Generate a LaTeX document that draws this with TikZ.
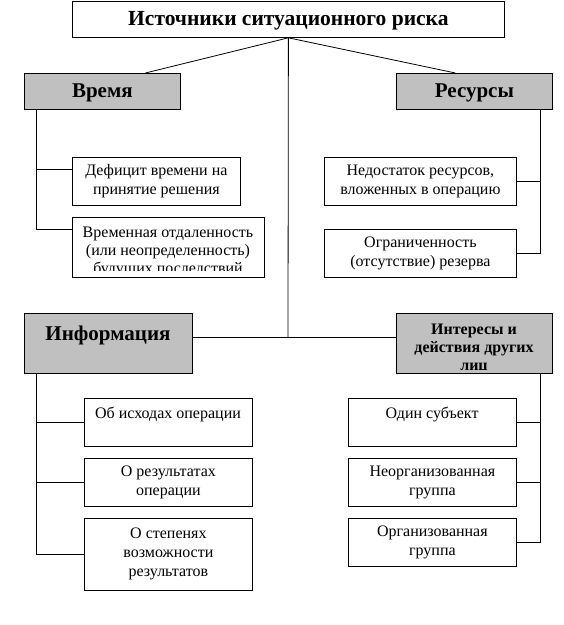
\documentclass[tikz,border=0pt]{standalone}
\usepackage{fontspec}
\setmainfont{Liberation Serif}
\usetikzlibrary{positioning}
\definecolor{headgray}{HTML}{C0C0C0}
\definecolor{ink}{HTML}{000000}
\tikzset{
  box/.style={draw=ink, line width=0.8pt, inner sep=0pt, anchor=north west,
    align=center, font=\fontsize{16}{19}\selectfont},
  head/.style={box, fill=headgray, font=\bfseries\fontsize{21}{23}\selectfont},
  txt/.style={inner sep=0pt, align=center, font=\fontsize{16}{18}\selectfont},
  link/.style={draw=ink, line width=0.8pt},
}
\begin{document}
\begin{tikzpicture}[x=1pt,y=-1pt]
  \useasboundingbox (0,0) rectangle (564,625);
  % root
  \node[box, font=\bfseries\fontsize{21.5}{23}\selectfont, minimum width=432pt, minimum height=36pt,
    text height=14pt, text depth=1pt] (src) at (72,1) {Источники ситуационного риска};
  % four groups
  \node[head, minimum width=156pt, minimum height=36pt, text height=14pt, text depth=1pt] (time) at (24,73) {Время};
  \node[head, minimum width=156pt, minimum height=36pt, text height=14pt, text depth=1pt] (res) at (396,73) {Ресурсы};
  \node[head, minimum width=168pt, minimum height=60pt] (info) at (24,313) {};
  \node[head, minimum width=156pt, minimum height=60pt] (inter) at (396,313) {};
  \node[txt, font=\bfseries\fontsize{21}{23}\selectfont, anchor=base] (info-l) at (108,340) {Информация};
  % time
  \node[box, minimum width=168pt, minimum height=48pt] (t1) at (72,157) {Дефицит времени на\\принятие решения};
  \node[box, minimum width=192pt, minimum height=60pt] (t2) at (72,217) {};
  % resources
  \node[box, minimum width=192pt, minimum height=48pt] (r1) at (324,157) {Недостаток ресурсов,\\вложенных в операцию};
  \node[box, minimum width=192pt, minimum height=48pt] (r2) at (324,229) {Ограниченность\\(отсутствие) резерва};
  % information
  \node[box, minimum width=168pt, minimum height=48pt] (i1) at (84,398) {};
  \node[box, minimum width=168pt, minimum height=48pt] (i2) at (84,458) {О результатах\\операции};
  \node[box, minimum width=168pt, minimum height=72pt] (i3) at (84,518) {О степенях\\возможности\\результатов};
  \node[txt, anchor=base] (i1-l) at (168,418) {Об исходах операции};
  % other persons
  \node[box, minimum width=168pt, minimum height=48pt] (p1) at (348,398) {};
  \node[box, minimum width=168pt, minimum height=48pt] (p2) at (348,458) {Неорганизованная\\группа};
  \node[box, minimum width=168pt, minimum height=48pt] (p3) at (348,518) {Организованная\\группа};
  \node[txt, anchor=base] (p1-l) at (432,418) {Один субъект};
  % texts cut off at the bottom of their boxes
  \begin{scope}
    \clip (t2.north west) rectangle ([yshift=7pt]t2.south east);
    \node[txt, anchor=north] (t2-l) at (168,227) {Временная отдаленность\\(или неопределенность)\\будущих последствий};
  \end{scope}
  \begin{scope}
    \clip (inter.north west) rectangle ([yshift=4pt]inter.south east);
    \node[txt, font=\bfseries\fontsize{16}{18}\selectfont, anchor=north] (inter-l) at (474,324) {Интересы и\\действия других\\лиц};
  \end{scope}
  % connectors
  \coordinate (hub) at (288,337);
  \draw[link] (src.south) -- ([xshift=43pt]time.north);
  \draw[link] (src.south) -- ([xshift=-19pt]res.north);
  \draw[link] (src.south) -- (hub);
  \draw[link] (info.east |- hub) -- (inter.west |- hub);
  \foreach \c in {t1,t2} {\draw[link] ([xshift=12pt]time.south west) |- ([yshift=-12pt]\c.north west);}
  \foreach \c in {r1,r2} {\draw[link] ([xshift=-12pt]res.south east) |- (\c.east);}
  \foreach \c in {i1,i2,i3} {\draw[link] ([xshift=12pt]info.south west) |- (\c.west);}
  \foreach \c in {p1,p2,p3} {\draw[link] ([xshift=-12pt]inter.south east) |- (\c.east);}
\end{tikzpicture}
\end{document}
